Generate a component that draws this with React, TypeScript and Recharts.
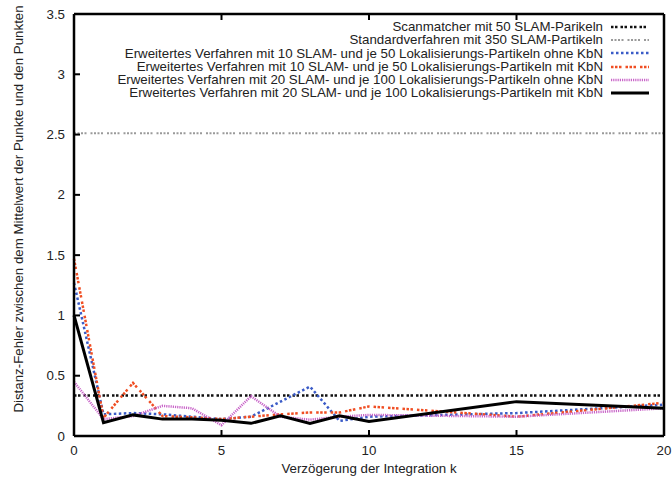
import { LineChart, Line, XAxis, YAxis } from 'recharts';

// delay of integration k (points measured at 0..10, then 15 and 20)
const kValues = [0, 1, 2, 3, 4, 5, 6, 7, 8, 9, 10, 15, 20];

const scanmatcher = [0.335, 0.335, 0.335, 0.335, 0.335, 0.335, 0.335, 0.335, 0.335, 0.335, 0.335, 0.335, 0.335];
const standard = [2.51, 2.51, 2.51, 2.51, 2.51, 2.51, 2.51, 2.51, 2.51, 2.51, 2.51, 2.51, 2.51];
const ext10ohne = [1.27, 0.18, 0.19, 0.18, 0.16, 0.14, 0.16, 0.285, 0.41, 0.125, 0.16, 0.19, 0.26];
const ext10mit = [1.47, 0.15, 0.44, 0.165, 0.155, 0.14, 0.16, 0.18, 0.195, 0.195, 0.245, 0.16, 0.275];
const ext20ohne = [0.45, 0.14, 0.165, 0.25, 0.23, 0.09, 0.33, 0.16, 0.135, 0.16, 0.175, 0.16, 0.23];
const ext20mit = [1.0, 0.11, 0.175, 0.14, 0.14, 0.13, 0.105, 0.167, 0.105, 0.167, 0.12, 0.285, 0.23];

const xTicks = [0, 5, 10, 15, 20];
const yTicks = [0, 0.5, 1, 1.5, 2, 2.5, 3, 3.5];

const SERIES = [
  { key: 'scan', name: 'Scanmatcher mit 50 SLAM-Parikeln', values: scanmatcher, color: '#111111', dash: '2.5 1.5 2.5 3', width: 2.5 },
  { key: 'std', name: 'Standardverfahren mit 350 SLAM-Partikeln', values: standard, color: '#9a9a9a', dash: '2 1.5 2 1.5 2 1.5 2 4', width: 2 },
  { key: 'e10o', name: 'Erweitertes Verfahren mit 10 SLAM- und je 50 Lokalisierungs-Partikeln ohne KbN', values: ext10ohne, color: '#3a5bc7', dash: '2.5 2.5', width: 2.5 },
  { key: 'e10m', name: 'Erweitertes Verfahren mit 10 SLAM- und je 50 Lokalisierungs-Partikeln mit KbN', values: ext10mit, color: '#f04e23', dash: '2.5 1.5 2.5 1.5 2.5 4', width: 2.5 },
  { key: 'e20o', name: 'Erweitertes Verfahren mit 20 SLAM- und je 100 Lokalisierungs-Partikeln ohne KbN', values: ext20ohne, color: '#c864c8', dash: '1.2 1', width: 2.5 },
  { key: 'e20m', name: 'Erweitertes Verfahren mit 20 SLAM- und je 100 Lokalisierungs-Partikeln mit KbN', values: ext20mit, color: '#000000', dash: undefined, width: 3 },
];

const data = kValues.map((k, i) => {
  const row: Record<string, number> = { k };
  for (const s of SERIES) row[s.key] = s.values[i];
  return row;
});

const FONT = '"Liberation Sans", Arial, sans-serif';
const FS = 13.3;

function LeftTick({ x, y, payload }: any) {
  return (
    <g>
      <line x1={x} x2={x + 6} y1={y} y2={y} stroke="#000" strokeWidth={2} />
      <text x={x - 9} y={y + 4.5} textAnchor="end" fontSize={FS} fill="#222" fontFamily={FONT}>
        {payload.value}
      </text>
    </g>
  );
}

function RightTick({ x, y }: any) {
  return <line x1={x - 6} x2={x} y1={y} y2={y} stroke="#000" strokeWidth={2} />;
}

function BottomTick({ x, y, payload }: any) {
  return (
    <g>
      <line x1={x} x2={x} y1={y - 6} y2={y} stroke="#000" strokeWidth={2} />
      <text x={x} y={y + 19} textAnchor="middle" fontSize={FS} fill="#222" fontFamily={FONT}>
        {payload.value}
      </text>
    </g>
  );
}

function TopTick({ x, y }: any) {
  return <line x1={x} x2={x} y1={y} y2={y + 6} stroke="#000" strokeWidth={2} />;
}

// axis titles ignore the coordinates Recharts passes in
function XTitle() {
  return (
    <text x={369} y={473} textAnchor="middle" fontSize={FS} fill="#222" fontFamily={FONT}>
      Verzögerung der Integration k
    </text>
  );
}

function YTitle() {
  return (
    <text
      x={18}
      y={209}
      transform="rotate(-90 18 209)"
      textAnchor="middle"
      dominantBaseline="central"
      fontSize={FS}
      fill="#222"
      fontFamily={FONT}
    >
      Distanz-Fehler zwischen dem Mittelwert der Punkte und den Punkten
    </text>
  );
}

export default function App() {
  return (
    <div style={{ position: 'absolute', left: 0, top: 0, width: 672, height: 480, background: '#fff' }}>
      <LineChart width={672} height={480} data={data} margin={{ top: 0, right: 0, bottom: 0, left: 0 }}>
        <XAxis
          dataKey="k"
          type="number"
          domain={[0, 20]}
          ticks={xTicks}
          height={44}
          tickSize={0}
          tickMargin={0}
          tickLine={false}
          axisLine={{ stroke: '#000', strokeWidth: 2.5 }}
          tick={<BottomTick />}
          label={<XTitle />}
        />
        <XAxis
          xAxisId="top"
          orientation="top"
          dataKey="k"
          type="number"
          domain={[0, 20]}
          ticks={xTicks}
          height={14}
          tickSize={0}
          tickMargin={0}
          tickLine={false}
          axisLine={{ stroke: '#000', strokeWidth: 2.5 }}
          tick={<TopTick />}
        />
        <YAxis
          type="number"
          domain={[0, 3.5]}
          ticks={yTicks}
          width={74}
          tickSize={0}
          tickMargin={0}
          tickLine={false}
          axisLine={{ stroke: '#000', strokeWidth: 2.5 }}
          tick={<LeftTick />}
          label={<YTitle />}
        />
        <YAxis
          yAxisId="right"
          orientation="right"
          type="number"
          domain={[0, 3.5]}
          ticks={yTicks}
          width={8}
          tickSize={0}
          tickMargin={0}
          tickLine={false}
          axisLine={{ stroke: '#000', strokeWidth: 2.5 }}
          tick={<RightTick />}
        />
        {SERIES.map((s) => (
          <Line
            key={s.key}
            dataKey={s.key}
            type="linear"
            stroke={s.color}
            strokeWidth={s.width}
            strokeDasharray={s.dash}
            dot={false}
            activeDot={false}
            isAnimationActive={false}
          />
        ))}
      </LineChart>
      <div style={{ position: 'absolute', top: 20, right: 23, fontFamily: FONT, fontSize: FS, color: '#222' }}>
        {SERIES.map((s) => (
          <div key={s.key} style={{ display: 'flex', justifyContent: 'flex-end', alignItems: 'center', height: 13.3 }}>
            <span style={{ whiteSpace: 'nowrap', lineHeight: '13.3px' }}>{s.name}</span>
            <svg width={38} height={10} style={{ marginLeft: 8 }}>
              <line x1={0} x2={38} y1={5} y2={5} stroke={s.color} strokeWidth={s.width} strokeDasharray={s.dash} />
            </svg>
          </div>
        ))}
      </div>
    </div>
  );
}
